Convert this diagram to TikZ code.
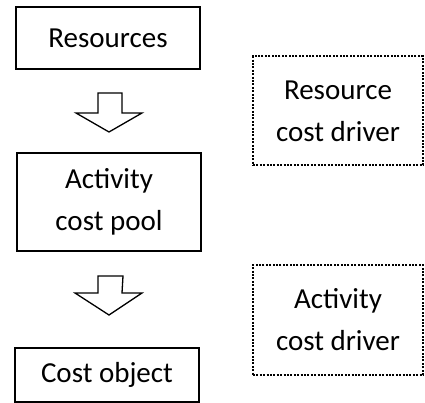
\documentclass[tikz,border=0pt]{standalone}
\usepackage{fontspec}
\setmainfont{Carlito}
\begin{document}
\begin{tikzpicture}[x=1pt,y=-1pt,
  solidbox/.style={draw=black,line width=1.8pt,inner sep=0pt,align=center,
    font=\fontsize{29}{41.5}\selectfont},
  dotbox/.style={draw=black,line width=2pt,dash pattern=on 2pt off 1.4pt,inner sep=0pt,align=center,
    font=\fontsize{29}{42}\selectfont},
  hollowarrow/.style={draw=black,line width=1.3pt,fill=white,line join=miter}]
\useasboundingbox (0,0) rectangle (425,403);
\node[solidbox,minimum width=184pt,minimum height=62pt] (res) at (108,38) {Resources};
\node[solidbox,minimum width=184pt,minimum height=98pt] (pool) at (109,202) {Activity\\cost pool};
\node[solidbox,minimum width=184pt,minimum height=54pt] (obj) at (107,375) {Cost object};
\node[dotbox,minimum width=170pt,minimum height=109pt] (rcd) at (338,111) {Resource\\cost driver};
\node[dotbox,minimum width=170pt,minimum height=110pt] (acd) at (338,320) {Activity\\cost driver};
\coordinate (a1) at (109,93);
\coordinate (a2) at (109,276);
\draw[hollowarrow] ([xshift=-11pt]a1) -- ++(0,20) -- ++(-22,0) -- (109,132) -- (142,113) -- ++(-20,0) -- ([xshift=13pt]a1) -- cycle;
\draw[hollowarrow] ([xshift=-11pt]a2) -- ++(0,17) -- ++(-23,0) -- (109,315) -- (142,293) -- ++(-20,0) -- ([xshift=14pt]a2) -- cycle;
\end{tikzpicture}
\end{document}
